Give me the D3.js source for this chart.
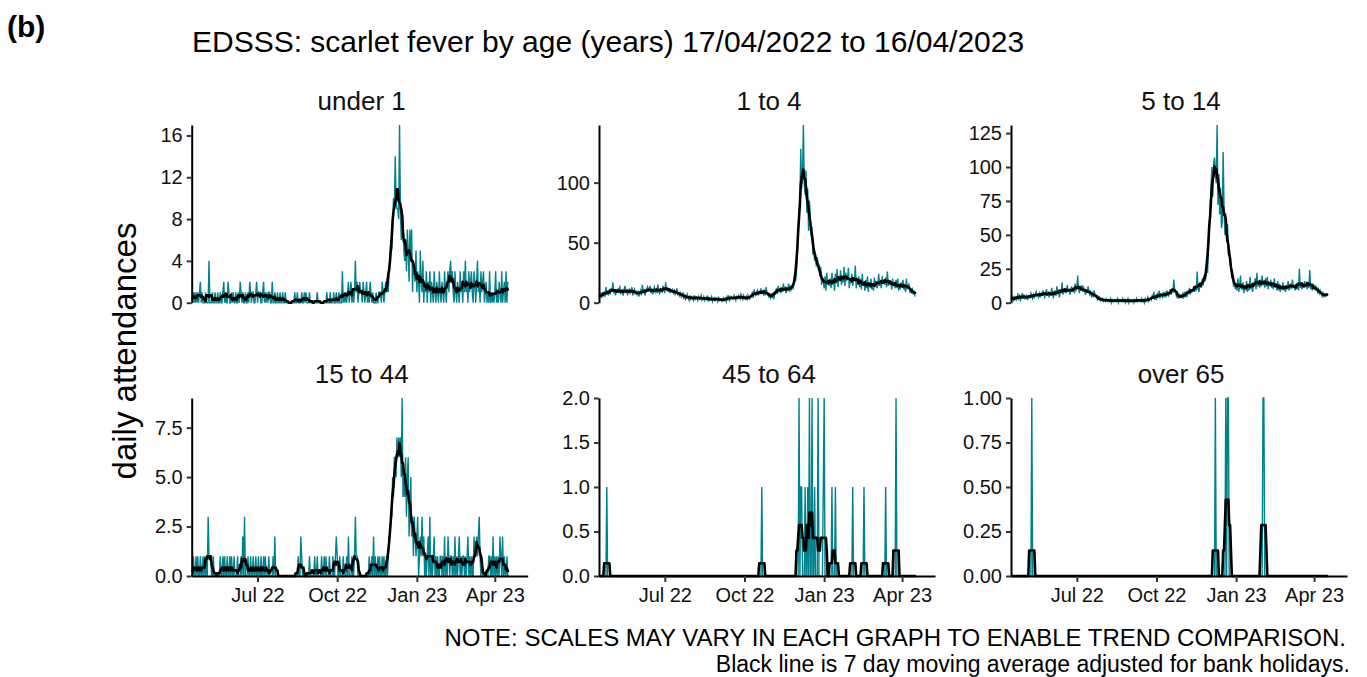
<!DOCTYPE html>
<html>
<head>
<meta charset="utf-8">
<script src="https://cdn.jsdelivr.net/npm/d3@7"></script>
<style>
  body { margin: 0; background: #fff; }
  svg { display: block; font-family: "Liberation Sans", Arial, Helvetica, sans-serif; }
</style>
</head>
<body>
<svg id="chart" width="1367" height="677"></svg>
<script>
// ---- data: daily scarlet fever ED attendances, 17/04/2022 to 16/04/2023 ----
const startDate = "2022-04-17";
const nDays = 365;

const panelNames = ["under 1", "1 to 4", "5 to 14", "15 to 44", "45 to 64", "over 65"];

const under1 = [
  1,0,1,0,1,0,1, 0,1,2,0,1,0,0, 0,1,0,0,0,4,0, 0,0,1,0,0,1,0,
  0,1,0,0,1,0,0, 1,2,0,1,0,0,2, 1,0,0,1,0,1,0, 0,1,0,0,1,0,2,
  1,0,1,0,0,1,0, 0,1,0,2,1,0,1, 1,0,0,1,2,0,1, 1,1,0,0,1,2,0,
  1,0,1,0,1,1,0, 0,2,0,0,1,0,0, 1,0,0,1,0,0,1, 0,0,1,0,0,0,0,
  0,0,0,0,0,0,1, 0,0,1,0,0,0,0, 1,0,0,1,0,1,0, 0,0,1,0,0,0,0,
  0,0,0,0,1,0,0, 0,0,0,0,0,0,0, 0,1,0,0,0,1,0, 0,0,1,0,0,1,0,
  0,1,0,0,0,3,0, 1,0,1,0,1,2,0, 1,2,0,1,0,1,4, 1,2,0,1,2,1,1,
  0,2,1,0,1,2,0, 1,0,2,1,0,1,0, 0,0,1,0,0,1,1, 1,0,2,1,0,1,2,
  1,2,1,3,4,6,5, 7,10,9,14,10,9,9, 8,17,9,6,9,8,5, 4,6,3,7,5,2,7,
  4,7,1,4,3,2,5, 1,3,2,0,5,2,1, 4,0,2,1,3,0,2, 1,3,0,2,1,0,3,
  1,0,2,1,0,3,1, 0,2,1,0,3,1,0, 2,3,1,3,4,2,3, 1,0,3,1,0,2,1,
  0,3,1,2,0,3,1, 4,1,2,0,3,1,2, 3,1,0,3,2,0,2, 4,1,2,0,3,1,2,
  3,0,1,2,0,1,0, 3,0,1,0,1,0,1, 3,0,1,0,2,1,0, 3,0,1,2,0,3,0,
  2
];

const age1to4 = [
  4,7,5,9,6,8,5, 13,7,9,6,10,8,12, 9,17,8,11,6,10,9, 12,8,14,7,10,9,6,
  11,14,8,10,7,9,12, 8,10,13,6,9,11,7, 10,7,9,5,8,10,6, 15,8,10,6,9,11,13,
  9,12,14,8,10,7,11, 13,9,11,8,15,10,7, 12,10,9,14,11,8,17, 10,13,9,12,8,11,10,
  11,8,10,7,9,12,6, 8,6,9,5,7,8,4, 6,3,5,7,4,2,6, 3,5,4,2,6,3,5,
  4,2,5,3,4,6,2, 3,5,2,4,3,6,1, 4,2,3,5,1,3,4, 2,4,3,1,5,2,3,
  3,1,2,4,2,3,1, 5,3,6,2,4,5,3, 3,6,4,2,5,4,6, 4,3,7,5,2,6,4,
  3,5,2,6,4,3,5, 5,9,4,11,7,6,8, 10,6,9,7,12,8,9, 7,11,6,13,8,7,5,
  6,4,8,5,7,3,9, 10,12,7,14,9,11,8, 13,9,16,10,12,8,11, 11,16,9,14,10,13,12,
  15,22,18,25,40,55,70, 85,128,95,105,148,100,90, 110,75,95,60,85,70,55, 63,40,45,35,40,30,38,
  33,28,22,30,15,20,18, 12,22,10,25,15,18,14, 20,12,25,15,19,10,24, 16,28,13,22,18,27,15,
  22,17,30,14,25,19,20, 29,12,20,16,24,14,21, 18,31,12,20,15,22,13, 20,11,24,14,17,10,19,
  12,22,9,17,13,20,11, 16,10,21,13,18,12,15, 24,14,19,12,22,16,18, 15,21,13,26,14,19,16,
  18,11,20,14,16,12,19, 12,20,10,15,11,17,13, 19,11,14,9,20,12,13, 16,8,12,9,11,7,10,
  5
];

const age5to14 = [
  2,4,1,5,3,2,4, 6,3,5,2,4,7,3, 5,3,4,6,2,4,5, 4,7,5,3,6,4,6,
  8,5,6,4,7,5,7, 5,9,6,4,7,10,5, 7,4,8,5,11,6,4, 6,9,5,12,7,8,4,
  10,7,15,6,9,8,11, 7,13,8,10,6,9,12, 8,11,7,14,9,10,20, 10,7,12,9,13,8,11,
  9,6,10,7,12,8,6, 8,5,7,4,9,6,5, 4,2,3,5,1,3,2, 3,1,2,1,3,2,1,
  2,1,3,0,2,1,2, 1,2,1,3,0,2,1, 2,1,3,1,2,0,2, 1,3,0,2,1,2,1,
  2,0,2,1,3,1,2, 1,2,1,3,1,2,0, 3,1,2,4,1,2,3, 2,5,3,8,2,4,3,
  6,4,9,3,7,5,4, 8,5,7,4,9,6,5, 7,10,6,9,8,17,10, 8,5,7,3,6,4,5,
  4,6,3,8,5,7,4, 9,7,11,6,10,8,9, 12,8,11,9,23,10,8, 12,15,11,18,13,20,16,
  18,28,22,40,55,70,85, 100,78,103,107,95,88,131, 72,95,65,85,55,60,111, 70,50,62,45,58,35,40,
  32,25,18,20,12,15,10, 14,9,18,8,12,20,10, 10,15,7,13,9,16,8, 14,9,19,11,12,8,15,
  13,18,10,22,12,16,11, 17,12,20,13,16,11,18, 12,19,10,15,13,17,11, 15,10,18,11,14,9,16,
  9,14,8,12,10,15,9, 12,8,13,10,16,9,11, 14,10,17,11,13,9,12, 10,15,9,25,11,14,10,
  13,11,16,12,14,10,15, 11,24,10,13,9,12,11, 13,9,11,8,10,7,9, 7,5,8,4,6,5,6,
  7
];

const age15to44 = [
  0,1,0,0,1,0,1, 0,0,1,0,0,1,0, 1,0,1,0,3,1,1, 1,0,0,1,0,0,0,
  0,0,0,0,1,0,0, 1,0,1,0,0,1,0, 0,1,0,1,0,0,1, 0,0,0,1,0,0,0,
  1,0,2,0,3,0,0, 0,1,0,0,1,0,0, 1,0,0,1,0,0,1, 0,0,1,0,0,1,0,
  1,0,0,0,1,0,0, 0,0,1,0,2,0,0, 0,0,0,0,0,0,0, 0,0,0,0,0,0,0,
  0,0,0,0,0,0,0, 0,0,0,1,0,0,2, 1,0,0,0,0,0,0, 0,0,1,0,0,0,0,
  0,1,0,0,1,0,0, 0,0,1,0,0,1,0, 1,0,0,0,1,0,0, 0,1,0,0,1,2,1,
  0,0,1,0,0,0,1, 0,0,0,1,0,2,0, 0,0,1,0,0,1,3, 1,1,0,0,0,0,0,
  0,0,0,0,0,0,0, 0,1,0,0,1,0,2, 0,1,0,0,1,0,1, 0,0,1,0,1,0,0,
  1,0,1,2,2,3,3, 5,4,6,6,5,7,6, 7,6,7,5,9,4,5, 4,6,3,5,6,2,3,
  5,2,3,1,3,2,1, 2,3,0,1,2,1,3, 1,2,0,1,0,1,2, 0,3,0,1,0,1,2,
  0,1,0,1,0,0,1, 1,0,1,0,2,0,1, 0,2,1,0,1,1,0, 1,0,2,0,1,0,1,
  2,0,1,0,1,1,0, 1,0,1,2,0,1,0, 1,0,0,2,1,1,2, 1,2,3,1,0,1,0,
  0,0,0,0,0,0,1, 1,0,1,0,2,0,1, 0,1,0,1,0,2,1, 0,2,0,1,0,0,1,
  0
];

// sparse groups: [day index from start, attendances]
const age45to64Events = [
  [8,1], [187,1], [230,2], [232,1], [233,1], [237,1], [240,1], [242,2], [245,2],
  [248,1], [252,2], [258,1], [259,2], [268,1], [272,1], [292,1], [305,1], [330,1], [342,2]
];
const over65Events = [
  [23,1], [235,1], [247,1], [249,1], [250,1], [290,1], [291,1]
];

const yTickValues = [
  [0, 4, 8, 12, 16],
  [0, 50, 100],
  [0, 25, 50, 75, 100, 125],
  [0, 2.5, 5, 7.5],
  [0, 0.5, 1, 1.5, 2],
  [0, 0.25, 0.5, 0.75, 1]
];
const yTickFormats = ["d", "d", "d", ".1f", ".1f", ".2f"];

const xTickDates = ["2022-07-01", "2022-10-01", "2023-01-01", "2023-04-01"];
const xTickLabels = ["Jul 22", "Oct 22", "Jan 23", "Apr 23"];

const titleText = "EDSSS: scarlet fever by age (years) 17/04/2022 to 16/04/2023";
const yLabelText = "daily attendances";
const noteLines = [
  "NOTE: SCALES MAY VARY IN EACH GRAPH TO ENABLE TREND COMPARISON.",
  "Black line is 7 day moving average adjusted for bank holidays."
];

// ---- helpers ----
const parse = d3.utcParse("%Y-%m-%d");
const day0 = parse(startDate);
const dates = d3.range(nDays).map(i => d3.utcDay.offset(day0, i));

function fromEvents(events) {
  const arr = new Array(nDays).fill(0);
  events.forEach(([d, v]) => { arr[d] = v; });
  return arr;
}

// centred 7 day moving average
function movingAverage(values) {
  return values.map((_, i) => {
    const lo = Math.max(0, i - 3), hi = Math.min(values.length - 1, i + 3);
    return d3.mean(values.slice(lo, hi + 1));
  });
}

const series = [under1, age1to4, age5to14, age15to44, fromEvents(age45to64Events), fromEvents(over65Events)];

// ---- layout ----
const svg = d3.select("#chart");
const colLeft = [191.7, 599, 1011];
const panelWidth = 336;
const rows = [{ top: 125, bottom: 302.7 }, { top: 398, bottom: 576 }];
const xDomain = [parse("2022-04-16"), parse("2023-05-09")];
const teal = "#00818C";

series.forEach((vals, p) => {
  const col = p % 3, row = Math.floor(p / 3);
  const left = colLeft[col];
  const { top, bottom } = rows[row];

  const x = d3.scaleUtc().domain(xDomain).range([left, left + panelWidth]);
  const y = d3.scaleLinear().domain([0, d3.max(vals)]).range([bottom, top]);

  const g = svg.append("g");

  const pts = vals.map((v, i) => ({ date: dates[i], v }));
  const ma = movingAverage(vals).map((v, i) => ({ date: dates[i], v }));

  const line = d3.line().x(d => x(d.date)).y(d => y(d.v));

  g.append("path")
    .datum(pts)
    .attr("fill", "none")
    .attr("stroke", teal)
    .attr("stroke-width", 1.4)
    .attr("d", line);

  g.append("path")
    .datum(ma)
    .attr("fill", "none")
    .attr("stroke", "#000")
    .attr("stroke-width", 2.6)
    .attr("stroke-linejoin", "round")
    .attr("stroke-linecap", "round")
    .attr("d", line);

  // y axis
  const yAxis = g.append("g")
    .attr("transform", `translate(${left},0)`)
    .call(d3.axisLeft(y)
      .tickValues(yTickValues[p])
      .tickFormat(d3.format(yTickFormats[p]))
      .tickSize(5)
      .tickSizeOuter(0)
      .tickPadding(4));
  yAxis.select(".domain").attr("stroke", "#000").attr("stroke-width", 2);
  yAxis.selectAll(".tick line").attr("stroke", "#333").attr("stroke-width", 2);
  yAxis.selectAll(".tick text")
    .attr("fill", "#111")
    .style("font-size", "20px")
    .style("font-family", "'Liberation Sans', Arial, sans-serif");

  // x axis only on the bottom row
  if (row === 1) {
    const xAxis = g.append("g")
      .attr("transform", `translate(0,${bottom})`)
      .call(d3.axisBottom(x)
        .tickValues(xTickDates.map(parse))
        .tickFormat((d, i) => xTickLabels[i])
        .tickSize(6)
        .tickSizeOuter(0)
        .tickPadding(6));
    xAxis.select(".domain").attr("stroke", "#000").attr("stroke-width", 2);
    xAxis.selectAll(".tick line").attr("stroke", "#333").attr("stroke-width", 2);
    xAxis.selectAll(".tick text")
      .attr("fill", "#111")
      .style("font-size", "20px")
      .style("font-family", "'Liberation Sans', Arial, sans-serif");
  }

  // panel strip title
  svg.append("text")
    .attr("x", left + panelWidth / 2 + 2)
    .attr("y", top - 15)
    .attr("text-anchor", "middle")
    .attr("fill", "#111")
    .style("font-size", "26px")
    .text(panelNames[p]);
});

// figure labels
svg.append("text")
  .attr("x", 7).attr("y", 37)
  .style("font-size", "30px").style("font-weight", "bold")
  .attr("fill", "#000")
  .text("(b)");

svg.append("text")
  .attr("x", 192).attr("y", 52)
  .style("font-size", "30px")
  .attr("fill", "#000")
  .text(titleText);

svg.append("text")
  .attr("transform", "translate(136,351) rotate(-90)")
  .attr("text-anchor", "middle")
  .style("font-size", "33px")
  .attr("fill", "#000")
  .text(yLabelText);

svg.append("text")
  .attr("x", 1346).attr("y", 646)
  .attr("text-anchor", "end")
  .style("font-size", "24px")
  .attr("fill", "#000")
  .text(noteLines[0]);

svg.append("text")
  .attr("x", 1350).attr("y", 672)
  .attr("text-anchor", "end")
  .style("font-size", "23px")
  .attr("fill", "#000")
  .text(noteLines[1]);
</script>
</body>
</html>
